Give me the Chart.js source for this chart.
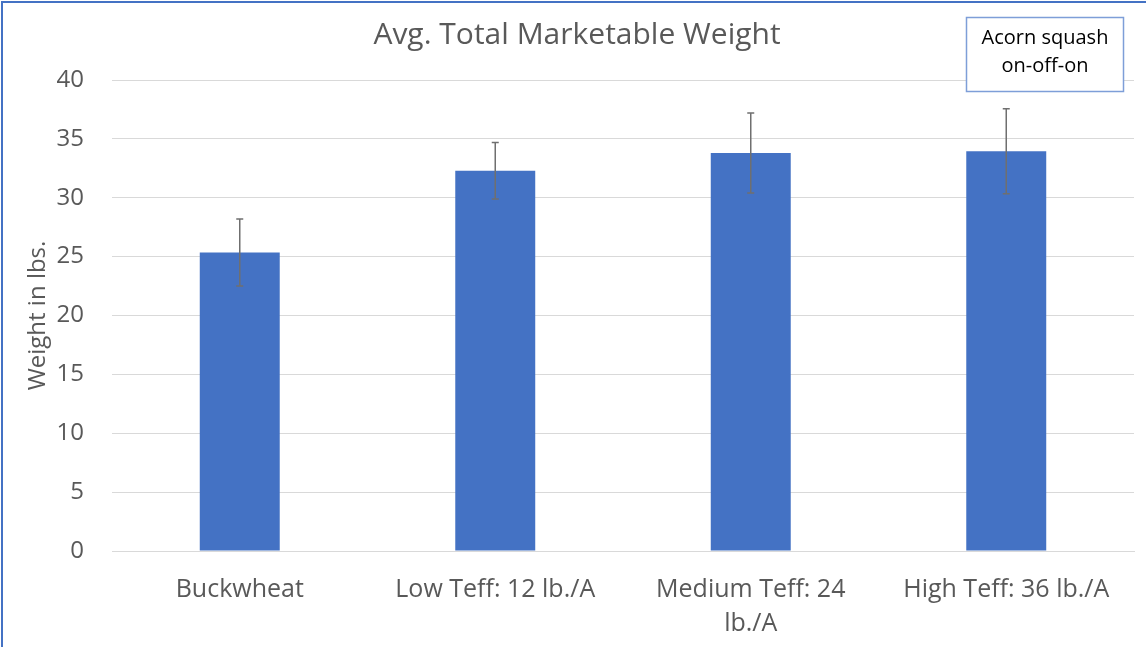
<!DOCTYPE html>
<html>
<head>
<meta charset="utf-8">
<script src="https://cdn.jsdelivr.net/npm/chart.js@4"></script>
<style>
  html, body { margin: 0; padding: 0; background: #fff; }
  #wrap { width: 1146px; height: 647px; position: relative; }
</style>
</head>
<body>
<div id="wrap"><canvas id="chart"></canvas></div>
<script>
// data
const categories = ["Buckwheat", "Low Teff: 12 lb./A", ["Medium Teff: 24", "lb./A"], "High Teff: 36 lb./A"];
const weights = [25.35, 32.3, 33.8, 33.95];
const errors = [2.85, 2.4, 3.4, 3.6];
const yTicks = [0, 5, 10, 15, 20, 25, 30, 35, 40];
const noteLines = ["Acorn squash", "on-off-on"];

const FONT = "'Open Sans', sans-serif";
const GREY = "#595959";

// error bars drawn from the bar values through the scales
const errorBars = {
    id: 'errorBars',
    afterDatasetsDraw: function (chart) {
        let ctx = chart.ctx;
        let meta = chart.getDatasetMeta(0);
        let y = chart.scales.y;
        ctx.save();
        ctx.strokeStyle = "#6f6f6f";
        ctx.lineWidth = 1.5;
        meta.data.forEach(function (bar, i) {
            let v = weights[i], e = errors[i];
            let top = y.getPixelForValue(v + e),
                bot = y.getPixelForValue(v - e),
                x = bar.x;
            ctx.beginPath();
            ctx.moveTo(x, top); ctx.lineTo(x, bot);
            ctx.moveTo(x - 3.5, top); ctx.lineTo(x + 3.5, top);
            ctx.moveTo(x - 3.5, bot); ctx.lineTo(x + 3.5, bot);
            ctx.stroke();
        });
        ctx.restore();
    }
};

// page background, blue frame and the text box in the corner
const frame = {
    id: 'frame',
    beforeDraw: function (chart) {
        let ctx = chart.ctx;
        ctx.save();
        ctx.fillStyle = "#fff";
        ctx.fillRect(0, 0, chart.width, chart.height);
        ctx.fillStyle = "#4472C4";
        ctx.fillRect(1, 1, 2, chart.height);
        ctx.fillRect(1, 1, chart.width, 2);
        ctx.restore();
    },
    afterDraw: function (chart) {
        let ctx = chart.ctx;
        ctx.save();
        ctx.fillStyle = "#fff";
        ctx.fillRect(966, 17, 158, 75);
        ctx.strokeStyle = "#7e9ed8";
        ctx.lineWidth = 1.5;
        ctx.strokeRect(966.5, 17.5, 157, 74);
        ctx.fillStyle = "#000";
        ctx.font = "20px " + FONT;
        ctx.textAlign = "center";
        ctx.textBaseline = "middle";
        noteLines.forEach(function (t, i) {
            ctx.fillText(t, 1045, 38 + i * 28);
        });
        ctx.restore();
    }
};

let ctx = document.getElementById("chart");
let myBarChart = new Chart(ctx, {
    type: 'bar',
    data: {
        labels: categories,
        datasets: [{
            label: "Avg. Total Marketable Weight",
            data: weights,
            backgroundColor: "#4472C4",
            categoryPercentage: 1,
            barPercentage: 0.313
        }]
    },
    options: {
        responsive: true,
        maintainAspectRatio: false,
        animation: false,
        layout: { padding: { left: 20, right: 12, top: 0, bottom: 0 } },
        plugins: {
            legend: { display: false },
            tooltip: { enabled: false },
            title: {
                display: true,
                text: "Avg. Total Marketable Weight",
                color: GREY,
                font: { family: FONT, size: 30, weight: 'normal', lineHeight: 1.2 },
                padding: { top: 17, bottom: 27 }
            }
        },
        scales: {
            x: {
                grid: { display: false, drawTicks: false },
                border: { display: true, color: "#d9d9d9", width: 1 },
                ticks: {
                    color: GREY,
                    padding: 22,
                    maxRotation: 0,
                    autoSkip: false,
                    font: { family: FONT, size: 25, lineHeight: 1.36 }
                },
                afterFit: function (scale) { scale.height = 96; }
            },
            y: {
                min: 0,
                max: 40,
                afterBuildTicks: function (scale) {
                    scale.ticks = yTicks.map(v => ({ value: v }));
                },
                grid: { color: "#d9d9d9", drawTicks: false },
                border: { display: false },
                ticks: {
                    color: GREY,
                    padding: 28,
                    font: { family: FONT, size: 24 }
                },
                title: {
                    display: true,
                    text: "Weight in lbs.",
                    color: GREY,
                    font: { family: FONT, size: 24, weight: 'normal' },
                    padding: { top: 4, bottom: 0 }
                },
                afterFit: function (scale) { scale.width = 92; }
            }
        }
    },
    plugins: [frame, errorBars]
});
</script>
</body>
</html>
